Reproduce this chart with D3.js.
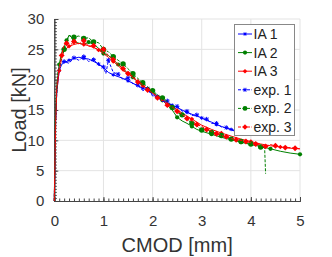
<!DOCTYPE html>
<html><head><meta charset="utf-8">
<script src="https://cdn.jsdelivr.net/npm/d3@7"></script>
<style>body{margin:0;background:#fff}svg{display:block}text{font-family:"Liberation Sans",Arial,sans-serif}</style>
</head><body><svg id="c" width="332" height="257"></svg>
<script>
const xTicks=[0,1,2,3,4,5];
const yTicks=[0,5,10,15,20,25,30];
const legendLabels=["IA 1","IA 2","IA 3","exp. 1","exp. 2","exp. 3"];
const colors=["#0000ff","#008000","#ff0000","#0000ff","#008000","#ff0000"];

const ia1X=[0,0.02,0.05,0.1,0.15,0.2,0.3,0.4,0.5,0.6,0.7,0.8,0.9,1.0,1.1,1.2,1.3,1.4,1.5,1.6,1.7,1.8,1.9,2.0,2.1,2.2,2.3,2.4,2.5,2.6,2.7,2.8,2.9,3.0,3.1,3.2,3.3,3.4,3.5,3.6,3.7];
const ia1Y=[0,12,18,21.5,22.5,22.8,23.2,23.5,23.7,23.5,23.4,23.0,22.6,22.0,21.2,20.8,20.5,20.2,19.8,19.4,19.0,18.6,18.2,17.6,17.0,16.6,16.2,15.8,15.4,15.0,14.6,14.3,14.0,13.7,13.3,13.0,12.6,12.3,12.0,11.8,11.6];
const ia2X=[0,0.02,0.05,0.1,0.15,0.2,0.25,0.3,0.35,0.4,0.5,0.6,0.7,0.8,0.9,1.0,1.1,1.2,1.3,1.4,1.5,1.6,1.7,1.8,1.9,2.0,2.1,2.2,2.3,2.4,2.5,2.6,2.7,2.8,2.9,3.0,3.2,3.4,3.6,3.8,4.0,4.2,4.4,4.6,4.8,5.0];
const ia2Y=[0,13,19,22.5,24.5,25.3,26.5,27.3,27.0,26.3,26.0,25.8,26.2,25.8,25.2,24.3,24.0,23.3,22.5,21.8,21.0,20.4,19.6,19.0,18.5,18.0,17.3,16.6,15.8,15.0,13.8,13.2,12.8,12.3,11.8,11.5,11.0,10.5,10.1,9.7,9.3,9.0,8.6,8.2,7.9,7.7];
const ia3X=[0,0.02,0.05,0.1,0.15,0.2,0.3,0.4,0.5,0.6,0.7,0.8,0.9,1.0,1.1,1.2,1.3,1.4,1.5,1.6,1.7,1.8,1.9,2.0,2.2,2.4,2.6,2.8,3.0,3.2,3.4,3.6,3.8,4.0,4.2,4.4,4.6,4.8,5.0];
const ia3Y=[0,12,18,21.5,23.5,24.8,25.5,25.8,26.0,25.8,25.6,25.3,24.9,24.3,23.7,23.0,22.3,21.5,21.0,20.3,19.7,19.0,18.4,17.8,16.7,15.6,14.5,13.5,12.5,11.8,11.2,10.7,10.2,9.8,9.4,9.1,8.9,8.7,8.6];
const exp1X=[0,0.03,0.06,0.1,0.2,0.3,0.4,0.5,0.6,0.7,0.8,0.9,1.0,1.05,1.1,1.2,1.3,1.4,1.5,1.6,1.7,1.8,1.9,2.0,2.1,2.2,2.3,2.4,2.5,2.6,2.7,2.8,2.9,3.0,3.1,3.2,3.3,3.4,3.5,3.6,3.7];
const exp1Y=[0,14,19.5,22.3,23.0,22.7,23.6,23.2,23.8,23.0,23.3,22.4,22.1,21.0,23.2,21.2,20.9,20.0,20.3,19.3,19.1,18.2,18.5,17.3,17.2,16.4,16.5,15.6,15.6,14.8,14.8,14.1,14.2,13.5,13.5,12.8,12.8,12.2,12.1,11.7,11.5];
const exp2X=[0,0.03,0.07,0.1,0.2,0.3,0.4,0.5,0.6,0.7,0.8,0.9,1.0,1.1,1.2,1.3,1.4,1.5,1.6,1.7,1.8,1.9,2.0,2.1,2.2,2.3,2.4,2.5,2.6,2.7,2.8,2.9,3.0,3.1,3.2,3.3,3.4,3.5,3.6,3.7,3.8,3.9,4.0,4.1,4.2,4.28,4.3];
const exp2Y=[0,15,21,22.3,25.0,27.3,27.0,27.2,26.8,26.9,26.2,26.1,25.0,24.6,23.8,23.2,22.6,21.8,21.0,20.2,19.5,18.8,18.2,17.5,17.0,16.4,15.4,14.6,14.2,13.5,12.8,12.4,11.7,11.9,11.3,11.0,10.8,10.5,10.2,10.0,9.8,9.6,9.4,9.2,8.9,8.8,4.5];
const exp3X=[0,0.03,0.05,0.1,0.15,0.2,0.25,0.3,0.4,0.5,0.6,0.7,0.8,0.9,1.0,1.1,1.2,1.3,1.4,1.45,1.5,1.6,1.7,1.8,1.9,2.0,2.1,2.2,2.3,2.4,2.5,2.6,2.7,2.8,2.9,3.0,3.1,3.2,3.3,3.4,3.5,3.6,3.7,3.8,3.9,4.0,4.1,4.2,4.3,4.4,4.5,4.6,4.7,4.8,4.9,5.0];
const exp3Y=[0,13,19,22,24,25.8,26.0,25.5,26.3,25.9,26.4,25.5,25.6,24.8,25.0,24.0,23.3,22.6,21.8,21.5,21.0,20.6,19.6,19.2,18.3,17.8,17.0,16.6,15.8,15.5,14.8,14.3,13.6,13.2,12.6,12.3,11.8,11.5,11.1,10.8,10.6,10.3,10.1,10.0,9.8,9.6,9.4,9.2,9.0,9.3,9.1,8.9,8.8,8.8,8.7,8.6];

const seriesX=[ia1X,ia2X,ia3X,exp1X,exp2X,exp3X];
const seriesY=[ia1Y,ia2Y,ia3Y,exp1Y,exp2Y,exp3Y];

const svg=d3.select("#c");
const L=54.3,R=300,T=19,B=201;
const x=d3.scaleLinear().domain([0,5]).range([L,R]);
const y=d3.scaleLinear().domain([0,30]).range([B,T]);

// grid
svg.append("g").selectAll("line").data(xTicks.slice(1)).join("line")
 .attr("x1",d=>x(d)).attr("x2",d=>x(d)).attr("y1",T).attr("y2",B).attr("stroke","#e3e3e3");
svg.append("g").selectAll("line").data(yTicks.slice(1)).join("line")
 .attr("y1",d=>y(d)).attr("y2",d=>y(d)).attr("x1",L).attr("x2",R).attr("stroke","#e3e3e3");

// axes
const xa=svg.append("g").attr("transform",`translate(0,${B})`)
 .call(d3.axisBottom(x).tickValues(xTicks).tickFormat(d3.format("d")).tickSize(-4).tickPadding(14));
const xm=svg.append("g").attr("transform",`translate(0,${B})`)
 .call(d3.axisBottom(x).tickValues(d3.range(0,5.001,0.1)).tickFormat("").tickSize(-2.5));
const ya=svg.append("g").attr("transform",`translate(${L},0)`)
 .call(d3.axisLeft(y).tickValues(yTicks).tickFormat(d3.format("d")).tickSize(-4).tickPadding(10));
const ym=svg.append("g").attr("transform",`translate(${L},0)`)
 .call(d3.axisLeft(y).tickValues(d3.range(0,30.001,0.5)).tickFormat("").tickSize(-2.5));
[xa,xm,ya,ym].forEach(g=>{g.selectAll("path").attr("stroke","#444");g.selectAll("line").attr("stroke","#444");
 g.selectAll("text").attr("font-size",15).attr("fill","#333").attr("font-family","Liberation Sans, Arial, sans-serif");});

// series
const line=d3.line().x(d=>x(d[0])).y(d=>y(d[1]));
const order=[0,1,2,3,4,5];
function drawMarker(g,cx,cy,i,sc){
  const c=colors[i];
  if(i%3===0){ // blue star-ish
    g.append("path").attr("d",`M${cx-2.5*sc},${cy}H${cx+2.5*sc}M${cx},${cy-2.5*sc}V${cy+2.5*sc}M${cx-1.8*sc},${cy-1.8*sc}L${cx+1.8*sc},${cy+1.8*sc}M${cx-1.8*sc},${cy+1.8*sc}L${cx+1.8*sc},${cy-1.8*sc}`).attr("stroke",c).attr("stroke-width",1);
  } else if(i%3===1){
    g.append("circle").attr("cx",cx).attr("cy",cy).attr("r",3*sc).attr("fill",c);
  } else {
    g.append("path").attr("d",`M${cx},${cy-3.3*sc}L${cx+3.3*sc},${cy}L${cx},${cy+3.3*sc}L${cx-3.3*sc},${cy}Z`).attr("fill",c);
  }
}
order.forEach(i=>{
  const pts=seriesX[i].map((v,k)=>[v,seriesY[i][k]]);
  const g=svg.append("g");
  g.append("path").datum(pts).attr("d",line).attr("fill","none").attr("stroke",colors[i])
   .attr("stroke-width",1).attr("stroke-dasharray",i>=3?"3,1.5":null);
  const step=i>=3?2:3;
  pts.forEach((p,k)=>{ if(k>=3 && k%step===0 && !(i===4&&k===pts.length-1)) drawMarker(g,x(p[0]),y(p[1]),i,i>=3?0.9:0.7);});
});

// axis titles
svg.append("text").attr("x",(L+R)/2).attr("y",252).attr("text-anchor","middle").attr("font-size",20).attr("fill","#333").text("CMOD [mm]");
svg.append("text").attr("transform",`translate(26,${(T+B)/2}) rotate(-90)`).attr("text-anchor","middle").attr("font-size",20).attr("fill","#333").text("Load [kN]");

// legend
const lg=svg.append("g");
lg.append("rect").attr("x",234.5).attr("y",24.5).attr("width",60).attr("height",111).attr("fill","#fff").attr("stroke","#888");
legendLabels.forEach((t,i)=>{
  const yy=34+i*18.6;
  lg.append("line").attr("x1",238).attr("x2",252).attr("y1",yy).attr("y2",yy).attr("stroke",colors[i]).attr("stroke-width",1).attr("stroke-dasharray",i>=3?"3,1.5":null);
  drawMarker(lg,245,yy,i,i>=3?0.8:0.7);
  lg.append("text").attr("x",253.5).attr("y",yy+5).attr("font-size",14).attr("fill","#222").text(t);
});
</script></body></html>
